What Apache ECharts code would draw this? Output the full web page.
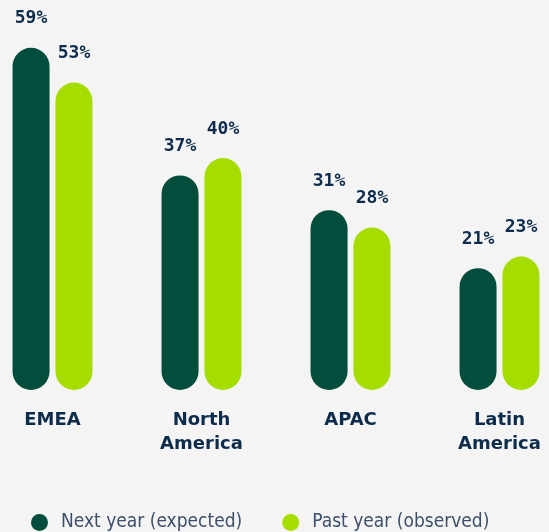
<!DOCTYPE html>
<html>
<head>
<meta charset="utf-8">
<script src="https://cdn.jsdelivr.net/npm/echarts@6/dist/echarts.min.js"></script>
<style>
  html, body { margin: 0; padding: 0; background: #f4f4f4; overflow: hidden; }
  #chart { position: absolute; left: -22px; top: 0; width: 596px; height: 532px; }
</style>
</head>
<body>
<div id="chart"></div>
<script>
  var regions = ['EMEA', 'North\nAmerica', 'APAC', 'Latin\nAmerica'];
  var nextYear = [59, 37, 31, 21];
  var pastYear = [53, 40, 28, 23];
  var seriesNames = ['Next year (expected)', 'Past year (observed)'];

  var navy = '#0d2b4b';
  var chart = echarts.init(document.getElementById('chart'));

  // value labels above the bars
  var labelStyle = {
    show: true,
    position: 'top',
    distance: 20,
    formatter: '{c}%',
    color: navy,
    fontFamily: 'DejaVu Sans Mono',
    fontWeight: 'bold',
    fontSize: 18
  };

  var option = {
    backgroundColor: '#f4f4f4',
    animation: false,
    grid: { left: 0, right: 0, top: 42, bottom: 142 },
    legend: {
      top: 508,
      left: 48,
      icon: 'circle',
      itemWidth: 17,
      itemHeight: 17,
      itemGap: 40,
      textStyle: {
        color: '#3d4f6b',
        fontSize: 19,
        fontWeight: 300,
        fontFamily: 'DejaVu Sans Condensed, DejaVu Sans',
        padding: [0, 0, 0, 8]
      },
      data: seriesNames
    },
    xAxis: {
      type: 'category',
      data: regions,
      axisLine: { show: false },
      axisTick: { show: false },
      axisLabel: {
        margin: 18,
        color: navy,
        fontSize: 18,
        fontWeight: 'bold',
        lineHeight: 24,
        fontFamily: 'DejaVu Sans'
      }
    },
    yAxis: {
      type: 'value',
      min: 0,
      max: 60,
      show: false
    },
    series: [
      {
        name: seriesNames[0],
        type: 'bar',
        data: nextYear,
        barWidth: 37,
        barGap: '16%',
        itemStyle: { color: '#034d3c', borderRadius: 18.5 },
        label: labelStyle
      },
      {
        name: seriesNames[1],
        type: 'bar',
        data: pastYear,
        barWidth: 37,
        itemStyle: { color: '#a5dd00', borderRadius: 18.5 },
        label: labelStyle
      }
    ]
  };

  chart.setOption(option);
</script>
</body>
</html>
